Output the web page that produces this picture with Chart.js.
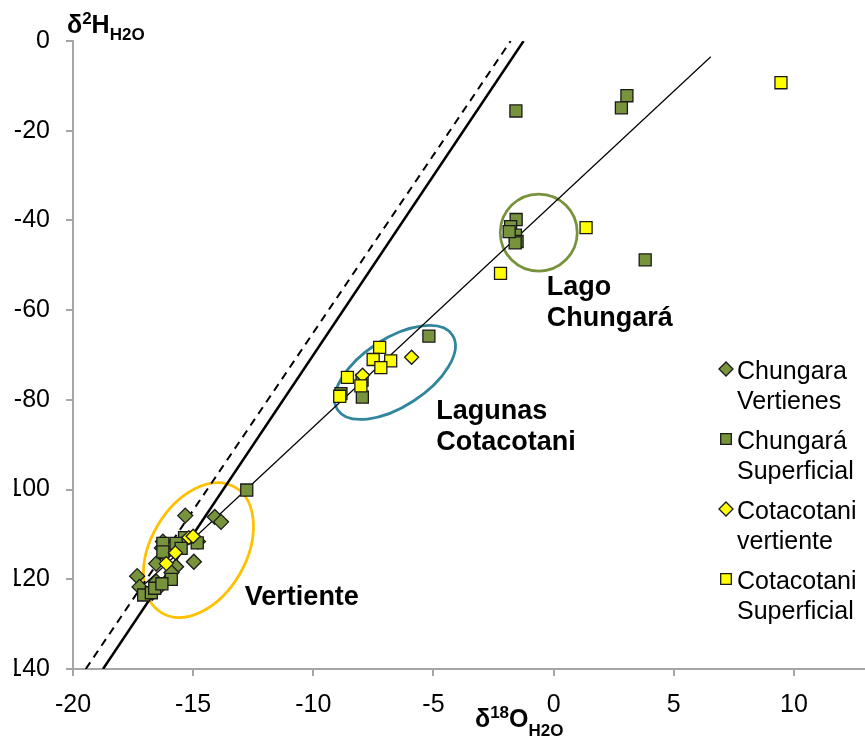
<!DOCTYPE html>
<html>
<head>
<meta charset="utf-8">
<script src="https://cdn.jsdelivr.net/npm/chart.js@4.4.1/dist/chart.umd.min.js"></script>
<style>
  html, body { margin: 0; padding: 0; background: #fff; overflow: hidden; }
  #frame { position: absolute; left: 14px; top: 0; width: 851px; height: 740px; overflow: hidden; }
  #isoChart { position: absolute; left: -14px; top: 0; }
</style>
</head>
<body>
<div id="frame"><canvas id="isoChart" width="942" height="740"></canvas></div>
<script>
// δ18O / δ2H pairs, per sample group
const chungaraVertientes = [
    [-15.33, -105.8], [-14.1, -106.1], [-13.84, -107.2], [-14.97, -116.1],
    [-17.33, -119.3], [-17.23, -121.7], [-16.54, -116.5], [-16.26, -111.6],
    [-15.71, -117.2], [-16.54, -120.5], [-16.4, -121.7], [-16.7, -123.0],
    [-16.19, -114.4], [-14.8, -111.6], [-16.3, -113.0], [-15.9, -118.5],
];
const chungaraSuperficial = [
    [-1.57, -15.6], [3.05, -12.2], [2.82, -14.9], [3.81, -48.8],
    [-1.56, -39.8], [-1.79, -41.4], [-1.59, -43.3], [-1.52, -44.7],
    [-1.6, -45.0], [-1.85, -42.5],
    [-5.19, -65.8], [-7.96, -79.4], [-7.97, -75.6], [-8.85, -78.6],
    [-12.77, -100.1], [-14.83, -111.9], [-15.36, -110.7], [-15.71, -112.0],
    [-16.26, -112.0], [-16.26, -113.9], [-15.91, -120.0], [-17.06, -123.5],
    [-16.74, -123.0], [-15.5, -113.1], [-16.6, -122.0], [-16.3, -121.0],
];
const cotacotaniVertiente = [
    [-16.12, -116.5], [-15.74, -114.1], [-15.18, -110.7], [-15.0, -110.4],
    [-5.91, -70.5], [-7.95, -74.5],
];
const cotacotaniSuperficial = [
    [-7.24, -68.3], [-7.51, -71.0], [-6.78, -71.3], [-7.19, -72.8],
    [-8.58, -75.0], [-8.02, -76.9], [-8.9, -79.2],
    [1.35, -41.6], [-2.21, -51.8], [9.46, -9.3],
];

// reference lines (end points)
const gmwlLine = [[-18.75, -140], [-1.25, 0]];
const localLine = [[-19.47, -140], [-1.79, 0]];
const evaporationLine = [[-17.0, -121.0], [6.54, -3.5]];

const seriesNames = [
    ['Chungara', 'Vertienes'],
    ['Chungará', 'Superficial'],
    ['Cotacotani', 'vertiente'],
    ['Cotacotani', 'Superficial'],
];
const areaLabels = [
    { lines: ['Lago', 'Chungará'], x: -0.29, y: -54.9 },
    { lines: ['Lagunas', 'Cotacotani'], x: -4.88, y: -82.7 },
    { lines: ['Vertiente'], x: -12.85, y: -124.0 },
];
const xTicks = [-20, 15, 5];   // min, max, step
const yTicks = [-140, 0, 20];

const FONT = '"Liberation Sans", Arial, Helvetica, sans-serif';
const OLIVE = '#77933C';
const YELLOW = '#FFFF00';
const EDGE = '#1a1a1a';
const AXIS_GRAY = '#a6a6a6';

const toXY = pts => pts.map(([x, y]) => ({ x, y }));

function markerSet(label, pts, style, color, radius, order) {
    return {
        label, data: toXY(pts), order,
        pointStyle: style, pointRadius: radius,
        backgroundColor: color, borderColor: EDGE, borderWidth: 1.3,
        showLine: false,
    };
}

function lineSet(label, pts, width, dash) {
    return {
        label, data: toXY(pts), order: 10,
        showLine: true, pointRadius: 0,
        borderColor: '#000', borderWidth: width, borderDash: dash,
        backgroundColor: 'transparent',
    };
}

const markerSets = [
    markerSet(seriesNames[0].join(' '), chungaraVertientes, 'rectRot', OLIVE, 7.5, 4),
    markerSet(seriesNames[1].join(' '), chungaraSuperficial, 'rect', OLIVE, 8.5, 3),
    markerSet(seriesNames[2].join(' '), cotacotaniVertiente, 'rectRot', YELLOW, 7, 2),
    markerSet(seriesNames[3].join(' '), cotacotaniSuperficial, 'rect', YELLOW, 8.5, 1),
];

// outlines around each sampling area
const areaRings = [
    { x: -0.62, y: -42.7, rx: 38.5, ry: 38.5, angle: 0, color: '#76923C' },
    { x: -6.6, y: -73.9, rx: 68.5, ry: 34, angle: -33, color: '#31859C' },
    { x: -14.78, y: -113.5, rx: 72.7, ry: 47.7, angle: -60, color: '#FFC000' },
];

function drawScripted(ctx, x, y, parts) {
    ctx.textBaseline = 'alphabetic';
    ctx.textAlign = 'left';
    parts.forEach(([text, size, dy]) => {
        ctx.font = `bold ${size}px ${FONT}`;
        ctx.fillText(text, x, y + dy);
        x += ctx.measureText(text).width;
    });
}

const decorations = {
    id: 'decorations',
    beforeDatasetsDraw(chart) {
        const { ctx, scales: { x, y } } = chart;
        ctx.save();
        ctx.lineWidth = 2.75;
        areaRings.forEach(r => {
            ctx.strokeStyle = r.color;
            ctx.beginPath();
            ctx.ellipse(x.getPixelForValue(r.x), y.getPixelForValue(r.y), r.rx, r.ry,
                r.angle * Math.PI / 180, 0, Math.PI * 2);
            ctx.stroke();
        });
        ctx.restore();
    },
    afterDraw(chart) {
        const { ctx, chartArea: area, scales: { x, y } } = chart;
        ctx.save();
        ctx.fillStyle = '#000';

        // area names
        ctx.font = `bold 27px ${FONT}`;
        ctx.textAlign = 'left';
        ctx.textBaseline = 'middle';
        areaLabels.forEach(l => {
            const px = x.getPixelForValue(l.x);
            const py = y.getPixelForValue(l.y);
            l.lines.forEach((t, i) => ctx.fillText(t, px, py + i * 31));
        });

        // axis titles with super/subscripts
        drawScripted(ctx, area.left - 6, area.top - 8,
            [['δ', 25, 0], ['2', 17, -9], ['H', 25, 0], ['H2O', 17, 7]]);
        drawScripted(ctx, area.left + 402, area.bottom + 58,
            [['δ', 25, 0], ['18', 17, -9], ['O', 25, 0], ['H2O', 17, 9]]);

        // legend
        const lx = 726, ly = 372;
        markerSets.forEach((ds, i) => {
            const top = ly + i * 70;
            ctx.fillStyle = ds.backgroundColor;
            ctx.strokeStyle = EDGE;
            ctx.lineWidth = 1.3;
            Chart.helpers.drawPoint(ctx, {
                pointStyle: ds.pointStyle, rotation: 0,
                radius: ds.pointStyle === 'rect' ? 7.5 : 7, borderWidth: 1.3,
            }, lx, top - 3);
            ctx.fillStyle = '#000';
            ctx.font = `25px ${FONT}`;
            ctx.textAlign = 'left';
            ctx.textBaseline = 'middle';
            seriesNames[i].forEach((t, j) => ctx.fillText(t, lx + 11, top + j * 30));
        });
        ctx.restore();
    },
};

const axisStyle = {
    grid: { drawOnChartArea: false, drawTicks: true, tickLength: 7, color: AXIS_GRAY, lineWidth: 2 },
    border: { color: AXIS_GRAY, width: 2 },
};

new Chart(document.getElementById('isoChart'), {
    type: 'scatter',
    data: {
        datasets: [
            ...markerSets,
            lineSet('GMWL', gmwlLine, 2.5, []),
            lineSet('LMWL', localLine, 2, [8, 6]),
            lineSet('Evaporación', evaporationLine, 1.2, []),
        ],
    },
    options: {
        responsive: false,
        animation: false,
        events: [],
        layout: { padding: { top: 41, right: 14, left: 0, bottom: 0 } },
        plugins: {
            legend: { display: false },
            tooltip: { enabled: false },
        },
        scales: {
            x: {
                type: 'linear', min: xTicks[0], max: xTicks[1],
                ticks: { stepSize: xTicks[2], color: '#000', padding: 14, font: { size: 25, family: FONT } },
                afterFit: s => { s.height = 71; },
                ...axisStyle,
            },
            y: {
                type: 'linear', min: yTicks[0], max: yTicks[1],
                ticks: { stepSize: yTicks[2], color: '#000', padding: 16, font: { size: 25, family: FONT } },
                afterFit: s => { s.width = 73; },
                ...axisStyle,
            },
        },
    },
    plugins: [decorations],
});
</script>
</body>
</html>
